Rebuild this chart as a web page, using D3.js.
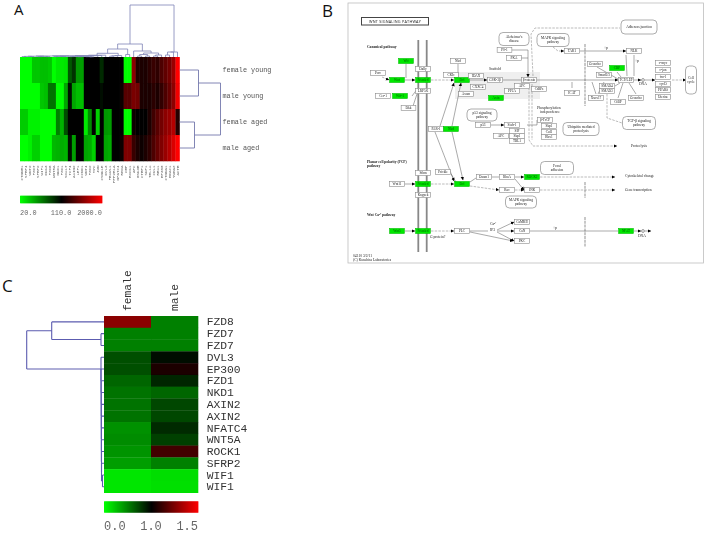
<!DOCTYPE html>
<html><head><meta charset="utf-8">
<script src="https://cdn.jsdelivr.net/npm/d3@7/dist/d3.min.js"></script>
<style>html,body{margin:0;padding:0;background:#fff}svg{display:block}text{white-space:pre}</style>
</head><body><svg id="c" width="706" height="534"></svg>
<script>
// ---------- Panel A data ----------
const ageRows = ["female young","male young","female aged","male aged"];
const ageGenes = ["CTNNB1","SFRP4","WNT2","FZD7","SFRP2","WIF1","DKK3","FZD8","WNT5A","NKD1","FZD1","SOX17","TCF4","AXIN2","LEF1","CCND1","WNT4","FZD2","MYC","JUN","CSNK1E","DVL3","FBXW11","PPP2R1A","NFATC4","RHOA","CBP","ROCK1","APC","GSK3B","CTBP1","SKP1","TBL1X","CUL1","RBX1","EP300","CTNNA1","HDAC1","YWHAZ","ACTB"];
const femaleYoung = [-1,-1,-1,-.78,-.78,-.75,-.75,-.78,-1,-.92,-.92,-.9,-.35,-.2,-.6,-.62,-.02,0,0,0,-.16,0,0,0,0,0,-1,-1,.55,.14,.1,.1,.16,.22,.18,.3,.38,.45,.6,1];
const maleYoung = [-1,-1,-1,-1,-1,-.78,-.75,-.45,-.45,-1,-1,-.65,-.05,-.65,-.75,-.75,0,0,0,0,-.03,0,0,0,0,.05,.35,.35,.48,.45,.1,.1,.1,.16,.12,.2,.3,.4,.55,.95];
const femaleAged = [-.8,-.8,-.95,-.95,-.95,-1,-1,-1,-1,-.5,-.7,-.3,0,0,0,0,-.92,-.55,-.02,-.82,0,-.6,-.62,0,0,0,-1,-1,.06,0,0,0,.1,.25,.35,.45,.55,.6,.7,.15];
const maleAged = [-1,-1,-.95,-.82,-.82,-1,-1,-1,-.72,-.7,-.68,-.7,-.04,-.62,0,0,-.65,-.68,-.82,0,0,-.65,-.68,0,0,.05,.5,.5,.22,.1,.05,.1,.18,.3,.4,.5,.6,.7,.85,1];
const ageValues = [femaleYoung,maleYoung,femaleAged,maleAged];
const ageLegendTicks = ["20.0","110.0","2000.0"];
// merges: [height, left, right]; a plain integer is a leaf index
const ageRowTree = [41,[19,0,1],[15,2,3]];
const ageColGreen = [1,[.8,[.6,[.4,0,1],[.4,2,3]],[.6,[.4,4,5],[.4,6,7]]],[.8,[.6,[.4,8,9],[.4,10,11]],[.6,[.4,12,13],[.5,[.3,14,15],[.3,16,[.2,17,18]]]]]];
const ageColChain = [1.8,[1.5,[1.2,ageColGreen,19],20],21];
const ageColLeft = [3.7,ageColChain,[1.5,[1.2,[.8,22,23],24],25]];
const ageColRoot = [52,[13,[8,ageColLeft,[2.5,26,27]],[6,28,[4,[2.5,[1,29,30],[1,31,32]],[2,[1,33,34],35]]]],[5,[5,[2,36,37],38],39]];

// ---------- Panel C data ----------
const wntGenes = ["FZD8","FZD7","FZD7","DVL3","EP300","FZD1","NKD1","AXIN2","AXIN2","NFATC4","WNT5A","ROCK1","SFRP2","WIF1","WIF1"];
const femaleFC = [1.27,.5,.5,.69,.69,.6,.55,.55,.55,.43,.45,.42,.38,.1,.1];
const maleFC = [.5,.5,.5,.95,1.05,.85,.6,.72,.72,.83,.75,1.13,.5,.13,.12];
const sexColumns = ["female","male"];
const fcLegendTicks = ["0.0","1.0","1.5"];
const fcChain = [3,3,[3,4,[2.8,5,[2.8,6,[2.7,7,[2.7,8,[2.6,9,[2.6,10,[2.5,11,[2.5,12,[1.5,13,14]]]]]]]]]]];
const fcTree = [77.3,[52.3,0,[3,1,2]],fcChain];

// ---------- Panel B data ----------
const pathwayNodes = [
["Wif",406,61,1],["Porc",378,73,0],["Wnt",397,80,1],["Dally",423,69,0],["Frizzled",423,80,1],["LRP5/6",423,91,0],["Cer-1",383,96,0],["Wif-1",400,96,1],["Dkk",408.5,108,0],
["Nkd",458,61,0],["CKIε",451,75,0],["Dvl",462,80,1],["IDAX",476,76,0],["GSK-3β",495,80,0],["CXXC4",478,87,0],["Axam",466,94,0],["Axin",496,98,1],
["PS-1",504.5,50,0],["PKA",514,58,0],["β-catenin",529,80,0],["APC",522,86,0],["PP2A",512,91,0],["CtBPs",539,89,0],
["p53",483,125,0],["Siah-1",512,125,0],["SIP",517,131,0],["APC",501,136,0],["Skp1",517,136,0],["TBL1",517,141,0],["PAR-1",436,129,0],["Nkd",451,129,1],
["TAK1",572,51,0],["NLK",634,51,0],["Groucho",595,64,0],["Smad2/3",604,75,0],["CBP",617,68,1],["TCF/LEF",626,80,0],["SMAD4",607,86,0],["SMAD3",607,91,0],["ICAT",572,93,0],["Xsox17",596,98,0],["CtBP",618,102,0],["Groucho",636,98,0],
["c-myc",663,63,0],["c-jun",663,70,0],["fra-1",663,77,0],["cycD",663,84,0],["PPARδ",663,90,0],["Uterine",663,97,0],
["β-TrCP",545,120,0],["Skp1",549,126,0],["Cul1",549,132,0],["Rbx1",549,137,0],
["Wnt11",397,184,0],["Stbm",423,173,0],["Frizzled",423,184,1],["Knypek",423,195,0],["Prickle",443,172,0],["Dvl",462,184,1],["Daam1",484,177,0],["RhoA",507,177,0],["Rac",507,190,0],["ROCK2",532,177,1],["JNK",532,190,0],
["Wnt5",397,231,1],["Frizzled",423,231,1],["PLC",462,231,0],["CaMKII",522,222,0],["CaN",522,231,0],["PKC",522,241,0],["NFAT",626,231,1]];
const pathwayBubbles = [
["Alzheimer's disease",514,39,30,13],["p53 signaling pathway",482,115,30,12],["Adherens junction",639,27,36,14],["MAPK signaling pathway",553,40,32,13],
["Cell cycle",691,80,11,28],["Ubiquitin mediated proteolysis",581,129,36,13],["TGF-β signaling pathway",639,123,33,13],["Focal adhesion",557,168,33,13],["MAPK signaling pathway",521,202,31,12]];
const pathwayNotes = [
["Canonical pathway",367,48,1],["Scaffold",489,70,0],["Phosphorylation",537,109,0],["independence",540,113,0],["DNA",639,85,0],["Proteolysis",631,147,0],
["Planar cell polarity (PCP)",367,163,1],["pathway",367,167,1],["Cytoskeletal change",625,177,0],["Gene transcription",625,191,0],["Wnt Ca²⁺ pathway",367,216,1],
["G protein?",430,238,0],["Ca²⁺",490,225,0],["IP3",490,231,0],["DNA",638,237,0],["+p",604,49,0],["+p",635,62,0],["+p",553,229,0],["04310 3/2/11",353,257,0],["(C) Kanehisa Laboratories",353,261,0]];
// [points..., style] s = solid, d = dashed; a = arrow head
const pathwayLinks = [
[[382,77],[389,80],"da"],[[405,80],[415,80],"sa"],[[406,64],[406,78],"s"],[[431,80],[454,80],"da"],[[470,80],[487,80],"sa"],[[503,80],[522,80],"s"],[[537,80],[618,80],"sa"],[[634,80],[641,80],"sa"],[[645,80],[655,80],"sa"],[[672,80],[686,80],"da"],
[[458,64],[458,78],"s"],[[455,78],[458,78],"s"],[[440,126],[454,83],"sa"],[[452,126],[461,83],"sa"],[[412,96],[418,88],"s"],[[413,106],[417,94],"s"],
[[512,50],[528,50],[528,77],"sa"],[[520,58],[528,58],"s"],[[533,76],[531,34],[535,28],[620,28],"d"],[[529,84],[529,140],[533,146],[617,146],"da"],[[532,84],[532,140],"d"],
[[553,47],[558,51],[564,51],"da"],[[580,51],[626,51],"sa"],[[634,55],[634,76],"s"],[[626,55],[627,76],"s"],[[597,67],[618,79],"s"],[[617,72],[621,77],"s"],[[615,86],[620,83],"s"],[[572,88],[572,82],"s"],[[596,94],[592,82],"s"],[[598,94],[604,82],"s"],[[607,94],[607,118],[622,123],"d"],[[618,98],[623,83],"s"],[[636,94],[629,83],"s"],
[[491,125],[504,125],"sa"],[[482,121],[482,120],"s"],[[527,125],[537,125],"s"],[[537,125],[537,120],"s"],
[[405,184],[415,184],"sa"],[[431,184],[454,184],"da"],[[451,174],[456,182],"s"],[[435,132],[454,181],"sa"],[[452,132],[463,180],"sa"],[[470,182],[476,178],"s"],[[492,177],[499,177],"s"],[[515,177],[524,177],"sa"],[[470,186],[499,190],"da"],[[515,190],[524,190],"da"],[[515,179],[524,190],"sa"],[[540,177],[615,177],"da"],[[540,190],[615,190],"da"],
[[405,231],[415,231],"sa"],[[431,231],[454,231],"da"],[[470,231],[488,231],"s"],[[470,232],[513,241],"sa"],[[497,230],[514,222],"sa"],[[497,231],[514,231],"sa"],[[497,232],[514,241],"sa"],[[530,231],[618,231],"s"],[[634,231],[641,231],"sa"],[[645,231],[651,231],"sa"]];
const dnaMarks = [[643,80],[643,231]];
const membraneBars = [418.3,426.7];
const gateBars = [[44,106],[182,198],[217,247]];

// ---------- Drawing ----------
const svg = d3.select("#c");
const defs = svg.append("defs");
function blur(id,s){defs.append("filter").attr("id",id).attr("filterUnits","userSpaceOnUse").attr("x",0).attr("y",0).attr("width",706).attr("height",534).append("feGaussianBlur").attr("stdDeviation",s);}
blur("soft",.7);blur("softer",.32);blur("softest",.22);
defs.append("marker").attr("id","arr").attr("markerUnits","userSpaceOnUse").attr("markerWidth",4).attr("markerHeight",4).attr("refX",3.2).attr("refY",2).attr("orient","auto").append("path").attr("d","M0,.3L3.4,2L0,3.7Z").attr("fill","#000");
const MONO = "'Liberation Mono','DejaVu Sans Mono',monospace", SERIF="'Liberation Serif',serif", SANS="'Open Sans',Lato,sans-serif";

[["A",14,15,15],["B",322,17,17],["C",2,292,17]].forEach(([t,x,y,s])=>svg.append("text").text(t).attr("x",x).attr("y",y).attr("font-family",SANS).attr("font-size",s).attr("fill","#111"));

function layoutTree(node, leafPos){
  if(typeof node==="number") return {h:0,pos:leafPos(node)};
  const a=layoutTree(node[1],leafPos), b=layoutTree(node[2],leafPos);
  return {h:node[0],pos:(a.pos+b.pos)/2,a,b};
}
function drawTree(g,t,hScale,horizontal,color,w){
  if(!t.a) return;
  const H=hScale(t.h);
  const p=(n)=>{const h=hScale(n.h);return horizontal?`M${n.pos},${h}V${H}`:`M${h},${n.pos}H${H}`;};
  const bar=horizontal?`M${t.a.pos},${H}H${t.b.pos}`:`M${H},${t.a.pos}V${t.b.pos}`;
  g.append("path").attr("d",p(t.a)+p(t.b)+bar).attr("fill","none").attr("stroke",color).attr("stroke-width",w);
  drawTree(g,t.a,hScale,horizontal,color,w);drawTree(g,t.b,hScale,horizontal,color,w);
}
function legendBar(g,scale,x0,x1,y0,y1){
  const t=d3.scaleLinear().domain([0,1]).range([x0,x1]);
  const n=Math.round(x1-x0);
  g.append("g").selectAll("rect").data(d3.range(n)).join("rect").attr("x",i=>t(i/n)).attr("y",y0).attr("width",(x1-x0)/n+.4).attr("height",y1-y0).attr("fill",i=>scale(i/n));
}

// Panel A
const zA=d3.scaleLinear().domain([-1,0,1]).range(["#00ff00","#000000","#ff0000"]);
const xA=d3.scaleBand().domain(d3.range(ageGenes.length)).range([20,179.5]);
const yA=d3.scaleBand().domain(d3.range(ageRows.length)).range([57,161]);
const gA=svg.append("g");
const hmA=gA.append("g").attr("filter","url(#soft)");
ageValues.forEach((row,r)=>hmA.append("g").selectAll("rect").data(row).join("rect").attr("x",(d,i)=>xA(i)).attr("y",yA(r)).attr("width",xA.bandwidth()+.3).attr("height",yA.bandwidth()+.3).attr("fill",d=>zA(d)));
const treeRowA=layoutTree(ageRowTree,i=>yA(i)+yA.bandwidth()/2);
drawTree(gA.append("g").attr("filter","url(#softest)"),treeRowA,d3.scaleLinear().domain([0,41]).range([179.5,220.5]),false,"#7478ad",.9);
const treeColA=layoutTree(ageColRoot,i=>xA(i)+xA.bandwidth()/2);
drawTree(gA.append("g").attr("filter","url(#softest)"),treeColA,d3.scaleLinear().domain([0,52]).range([57,5]),true,"#7f84b6",.8);
const textA=gA.append("g").attr("filter","url(#softest)");
textA.append("g").selectAll("text").data(ageRows).join("text").text(d=>d).attr("x",222.5).attr("y",(d,i)=>yA(i)+yA.bandwidth()/2+2).attr("font-family",MONO).attr("font-size",6.8).attr("fill","#555");
gA.append("g").attr("filter","url(#softer)").selectAll("text").data(ageGenes).join("text").text(d=>d).attr("transform",(d,i)=>`translate(${xA(i)+xA.bandwidth()/2+1.3},165.5) rotate(-90)`).attr("text-anchor","end").attr("font-family",MONO).attr("font-size",4.2).attr("fill","#666");
legendBar(gA,d=>zA(d*2-1),20,102,195.7,203.3);
const lgA=d3.scalePoint().domain(ageLegendTicks).range([20,102]);
textA.append("g").selectAll("text").data(ageLegendTicks).join("text").text(d=>d).attr("x",d=>lgA(d)).attr("y",215).attr("text-anchor",(d,i)=>["start","middle","end"][i]).attr("font-family",MONO).attr("font-size",6.9).attr("fill","#666");

// Panel C
const zC=d3.scaleLinear().domain([0,1,1.5]).range(["#00ff00","#000000","#ff0000"]);
const xC=d3.scaleBand().domain(sexColumns).range([104,198]);
const yC=d3.scaleBand().domain(d3.range(wntGenes.length)).range([316,492.7]);
const gC=svg.append("g");
const hmC=gC.append("g").attr("filter","url(#softer)");
[femaleFC,maleFC].forEach((col,c)=>hmC.append("g").selectAll("rect").data(col).join("rect").attr("x",xC(sexColumns[c])).attr("y",(d,i)=>yC(i)).attr("width",xC.bandwidth()+.3).attr("height",yC.bandwidth()+.3).attr("fill",d=>zC(d)));
const treeC=layoutTree(fcTree,i=>yC(i)+yC.bandwidth()/2);
drawTree(gC.append("g").attr("filter","url(#softest)"),treeC,d3.scaleLinear().domain([0,77.3]).range([104,26.7]),false,"#5c5cb0",1.1);
const textC=gC.append("g").attr("filter","url(#softest)");
textC.append("g").selectAll("text").data(wntGenes).join("text").text(d=>d).attr("x",206.7).attr("y",(d,i)=>yC(i)+yC.bandwidth()/2+3.6).attr("font-family",MONO).attr("font-size",11.3).attr("fill","#333");
textC.append("g").selectAll("text").data(sexColumns).join("text").text(d=>d).attr("transform",d=>`translate(${xC(d)+xC.bandwidth()/2+3.5},311) rotate(-90)`).attr("font-family",MONO).attr("font-size",11.3).attr("fill","#333");
legendBar(gC,d=>zC(d<.5?d*2:1+(d-.5)),104,198,501.3,512.7);
const lgC=d3.scalePoint().domain(fcLegendTicks).range([104,198]);
textC.append("g").selectAll("text").data(fcLegendTicks).join("text").text(d=>d).attr("x",d=>lgC(d)).attr("y",530).attr("text-anchor",(d,i)=>["start","middle","end"][i]).attr("font-family",MONO).attr("font-size",12).attr("fill","#666");

// Panel B
const mx=d3.scaleIdentity(), my=d3.scaleIdentity();
svg.append("rect").attr("x",348).attr("y",3).attr("width",355.5).attr("height",260).attr("fill","#fff").attr("stroke","#bdbdbd").attr("stroke-width",.8);
const gB=svg.append("g").attr("filter","url(#softer)");
gB.append("rect").attr("x",mx(455)).attr("y",my(72)).attr("width",85).attr("height",27).attr("fill","#efefef");
gB.append("rect").attr("x",mx(361.5)).attr("y",my(17.5)).attr("width",67).attr("height",7.5).attr("fill","#fff").attr("stroke","#444").attr("stroke-width",1);
gB.append("text").text("WNT SIGNALING PATHWAY").attr("x",mx(395)).attr("y",my(23)).attr("text-anchor","middle").attr("font-family",SANS).attr("font-size",3.8).attr("letter-spacing",.2).attr("fill","#222");
membraneBars.forEach(x=>gB.append("line").attr("x1",mx(x)).attr("x2",mx(x)).attr("y1",my(40)).attr("y2",my(252)).attr("stroke","#888").attr("stroke-width",1.8));
gateBars.forEach(([a,b])=>gB.append("line").attr("x1",mx(585)).attr("x2",mx(585)).attr("y1",my(a)).attr("y2",my(b)).attr("stroke","#bbb").attr("stroke-width",1.6).attr("stroke-dasharray","3,.8"));
const ln=d3.line().x(d=>mx(d[0])).y(d=>my(d[1]));
gB.append("g").selectAll("path").data(pathwayLinks).join("path").attr("d",d=>ln(d.slice(0,-1))).attr("fill","none").attr("stroke",d=>d[d.length-1][0]==="d"?"#777":"#555").attr("stroke-width",.5).attr("stroke-dasharray",d=>d[d.length-1][0]==="d"?"2.5,1.2":null).attr("marker-end",d=>d[d.length-1].includes("a")?"url(#arr)":null);
gB.append("g").selectAll("circle").data(dnaMarks).join("circle").attr("cx",d=>mx(d[0])).attr("cy",d=>my(d[1])).attr("r",1.4).attr("fill","#fff").attr("stroke","#333").attr("stroke-width",.5);
const nw=14.7,nh=5;
const nd=gB.append("g").selectAll("g").data(pathwayNodes).join("g").attr("transform",d=>`translate(${mx(d[1])},${my(d[2])})`);
nd.append("rect").attr("x",-nw/2).attr("y",-nh/2).attr("width",nw).attr("height",nh).attr("fill",d=>d[3]?"#00e800":"#fff").attr("stroke",d=>d[3]?"#00c000":"#8a8a8a").attr("stroke-width",.6);
nd.append("text").text(d=>d[0]).attr("text-anchor","middle").attr("y",1.2).attr("font-family",SERIF).attr("font-size",3.4).attr("fill",d=>d[3]?"#0a5a0a":"#222");
const bb=gB.append("g").selectAll("g").data(pathwayBubbles).join("g").attr("transform",d=>`translate(${mx(d[1])},${my(d[2])})`);
bb.append("rect").attr("x",d=>-d[3]/2).attr("y",d=>-d[4]/2).attr("width",d=>d[3]).attr("height",d=>d[4]).attr("rx",4).attr("fill","#fff").attr("stroke","#777").attr("stroke-width",.6);
bb.each(function(d){
  const g=d3.select(this),w=d[0].split(" "),mid=Math.ceil(w.length/2);
  const lines=w.length>1&&d[3]<34||w.length>2?[w.slice(0,mid).join(" "),w.slice(mid).join(" ")]:[d[0]];
  lines.forEach((t,i)=>g.append("text").text(t).attr("text-anchor","middle").attr("y",1.2+(i-(lines.length-1)/2)*3.8).attr("font-family",SERIF).attr("font-size",3.5).attr("fill","#222"));
});
gB.append("g").selectAll("text").data(pathwayNotes).join("text").text(d=>d[0]).attr("x",d=>mx(d[1])).attr("y",d=>my(d[2])).attr("font-family",SERIF).attr("font-size",3.6).attr("font-weight",d=>d[3]?"bold":"normal").attr("fill","#222");
</script></body></html>
